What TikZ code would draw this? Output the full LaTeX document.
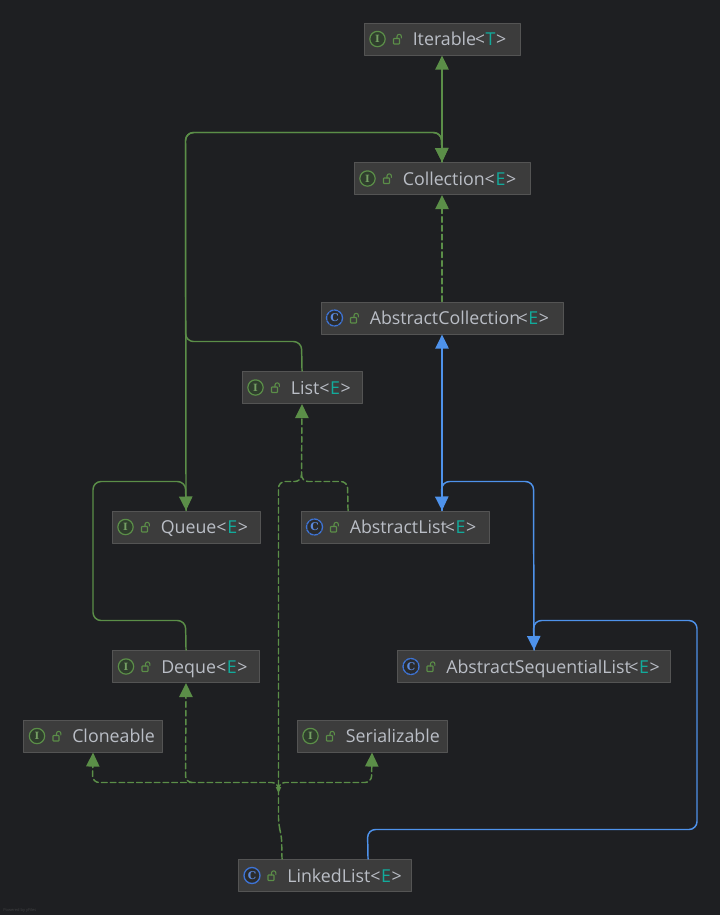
\documentclass[tikz,border=0pt]{standalone}
\usepackage{fontspec}
\usepackage{xcolor}
\setmainfont{Open Sans}
\newfontfamily\iconfont{DejaVu Serif}
\usetikzlibrary{arrows.meta}
\definecolor{ColBg}{RGB}{30,31,34}
\definecolor{ColBox}{RGB}{60,60,60}
\definecolor{ColEdge}{RGB}{84,84,84}
\definecolor{ColText}{RGB}{186,190,198}
\definecolor{ColParam}{RGB}{18,170,155}
\definecolor{ColGreen}{RGB}{91,142,72}
\definecolor{ColBlue}{RGB}{78,146,235}
\definecolor{ColIconC}{RGB}{62,116,214}
\newcommand{\genparam}[1]{\textcolor{ColText}{<}\kern0.5pt\textcolor{ColParam}{#1}\kern0.5pt\textcolor{ColText}{>}}
\begin{document}
\begin{tikzpicture}[
  x=0.75pt,
  y=-0.75pt,
  >={Triangle[length=10.5pt,width=10pt]},
  line cap=round,
  line join=round,
  every node/.style={font=\fontsize{13.35}{16}\selectfont, text=ColText},
  classbox/.style={draw=ColEdge, fill=ColBox, line width=0.8pt, anchor=north west, inner sep=0pt, minimum height=24pt},
  iconI/.style={circle, draw=ColGreen, fill=ColGreen!28!ColBg, line width=0.9pt, minimum size=11.5pt, inner sep=0pt, text=ColGreen!85!white, font=\iconfont\bfseries\fontsize{7.5}{8}\selectfont},
  iconA/.style={circle, draw=ColIconC, dash pattern=on 2.6pt off 0.9pt, fill=ColBg!60!ColBox, line width=1pt, minimum size=12pt, inner sep=0pt, text=ColIconC!85!white, font=\iconfont\bfseries\fontsize{8}{8}\selectfont},
  iconC/.style={circle, draw=ColIconC, fill=ColBg!60!ColBox, line width=1pt, minimum size=12pt, inner sep=0pt, text=ColIconC!85!white, font=\iconfont\bfseries\fontsize{8}{8}\selectfont},
  solidgreen/.style={ColGreen, line width=1.1pt, rounded corners=6pt},
  dashgreen/.style={ColGreen, line width=1.1pt, rounded corners=5pt, dash pattern=on 4.2pt off 2.4pt},
  solidblue/.style={ColBlue, line width=1.1pt, rounded corners=6pt},
  lockicon/.pic={
    \draw[ColGreen, line width=0.8pt, rounded corners=0.4pt] (-4,-1) rectangle (2,4.5);
    \draw[ColGreen, line width=0.8pt] (-0.5,-1) -- (-0.5,-3) arc[start angle=180, end angle=360, radius=2.2] -- (3.9,-1.5);
  }
]
  % Background
  \path[use as bounding box, fill=ColBg] (0,0) rectangle (720,915);

  % Class boxes: name/left/top/width/icon/letter/label
  \foreach \nm/\xa/\ya/\xw/\kind/\ltr/\txt in {
    nIterable/363.5/22.5/156/I/I/{Iterable\kern-1pt\genparam{T}},
    nCollection/353.5/162/176/I/I/{Collection\genparam{E}},
    nAbsColl/320.5/301.5/242/A/C/{AbstractCollection\kern-2pt\genparam{E}},
    nList/241.5/371/120/I/I/{List\genparam{E}},
    nQueue/111.5/510.5/148/I/I/{Queue\genparam{E}},
    nAbsList/300.5/510.5/188/A/C/{AbstractList\kern-1.5pt\genparam{E}},
    nDeque/112/650/147/I/I/{Deque\genparam{E}},
    nAbsSeq/397/650/273/A/C/{AbstractSequentialList\kern-2pt\genparam{E}},
    nCloneable/23/719.5/139/I/I/{Cloneable},
    nSerial/296.5/719.5/150/I/I/{Serializable},
    nLinked/238/859/173/C/C/{LinkedList\genparam{E}}%
  }{
    \node[classbox, minimum width=\xw*0.75pt] (\nm) at (\xa,\ya) {};
    \node[icon\kind] (\nm Icon) at (\xa+14,\ya+16.5) {\ltr};
    \pic at (\xa+34,\ya+17) {lockicon};
    \node[anchor=base west, inner sep=0pt] (\nm Label) at (\xa+49,\ya+23) {\txt};
  }

  % Solid inheritance, green
  \draw[->, solidgreen] (nCollection.north) -- (nIterable.south);
  \draw[->, solidgreen] (nList.north) -- (301.5,341.5) -- (185.5,341.5) -- (185.5,132.5) -- (441.5,132.5) -- (nCollection.north);
  \draw[->, solidgreen] (nQueue.north) -- (185.5,132.5) -- (441.5,132.5) -- (nCollection.north);
  \draw[->, solidgreen] (nDeque.north) -- (185.5,620.5) -- (93,620.5) -- (93,481.5) -- (185.5,481.5) -- (nQueue.north);

  % Solid inheritance, blue
  \draw[->, solidblue] (nAbsList.north -| nAbsColl.south) -- (nAbsColl.south);
  \draw[->, solidblue] (nAbsSeq.north) -- (533.5,481.5) -- (441.5,481.5) -- (nAbsList.north -| nAbsColl.south);
  \draw[->, solidblue] ([xshift=32.25pt]nLinked.north) -- (367.5,829.5) -- (697,829.5) -- (697,620.5) -- (533.5,620.5) -- (nAbsSeq.north);

  % Implemented interfaces, dashed
  \draw[->, dashgreen] (nAbsColl.north) -- (nCollection.south);
  \draw[dashgreen] ([xshift=-35.25pt]nAbsList.north) -- (347.5,481.5) -- (301.5,481.5) -- (301.5,474);
  \draw[->, dashgreen] ([xshift=-32.25pt]nLinked.north) -- (281.5,835) -- (278.5,825) -- (278.5,481.5) -- (301.5,481.5) -- (nList.south);
  \draw[->, dashgreen] (192,782.5) -- (185.5,782.5) -- (nDeque.south);
  \draw[->, dashgreen] (278.5,790) -- (278.5,782.5) -- (92.5,782.5) -- (nCloneable.south);
  \draw[->, dashgreen] (278.5,790) -- (278.5,782.5) -- (371.5,782.5) -- (nSerial.south);
  \draw[-{Triangle[length=4.5pt,width=4pt]}, ColGreen, line width=0.8pt] (278.5,784) -- (278.5,793);

  % Faint watermark
  \node[anchor=base west, inner sep=0pt, text=ColBg!85!white, font=\fontsize{3}{4}\selectfont] (nMark) at (3,911) {Powered by yFiles};
\end{tikzpicture}
\end{document}
